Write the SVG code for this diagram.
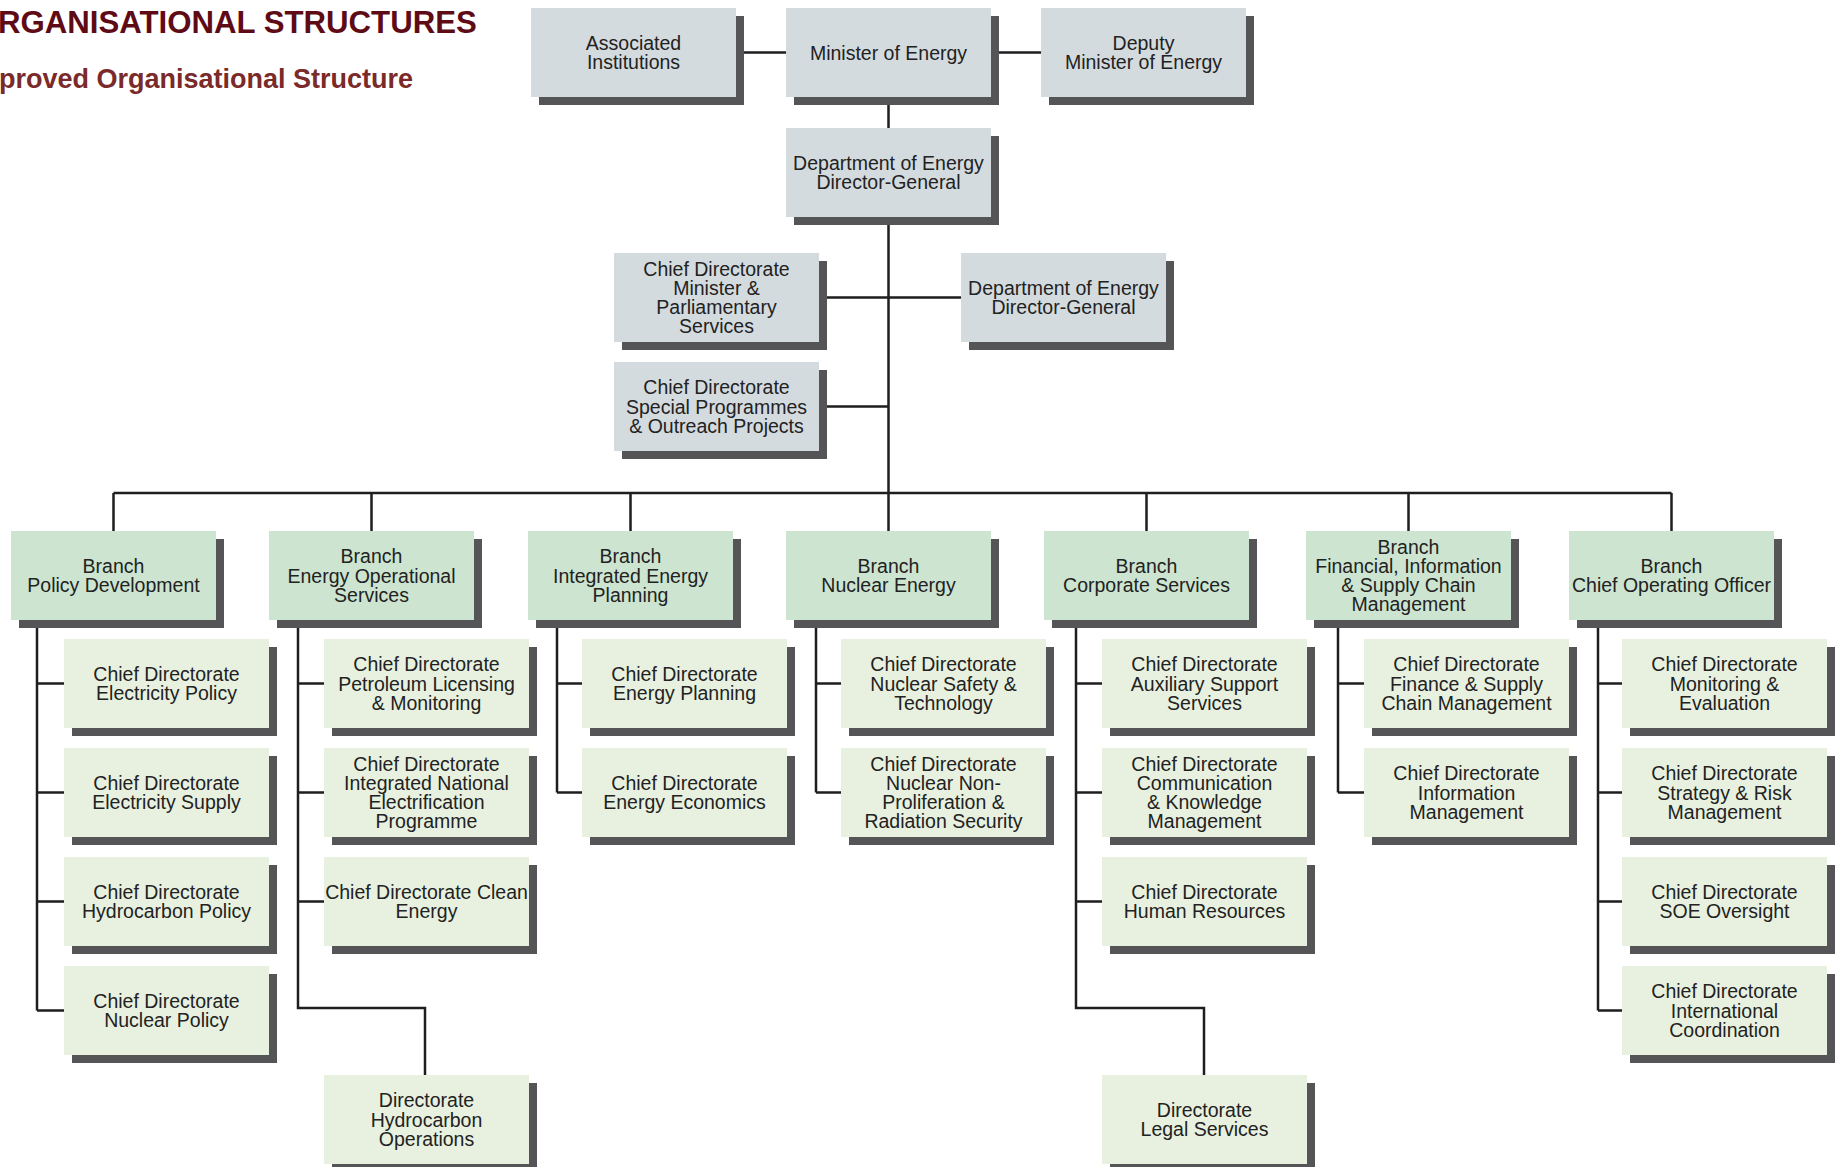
<svg xmlns="http://www.w3.org/2000/svg" width="1836" height="1167" viewBox="0 0 1836 1167">
<style>
.sh{fill:#555558}
.g{fill:#d4dbdf}
.b{fill:#cde5d0}
.c{fill:#e8f1e0}
.t{font-family:"Liberation Sans",Arial,sans-serif;font-size:19.5px;fill:#222;text-anchor:middle}
.ln{fill:none;stroke:#1e1e1e;stroke-width:2.5}
.h1{font-family:"Liberation Sans",Arial,sans-serif;font-weight:bold;font-size:31.2px;fill:#5e0b16}
.h2{font-family:"Liberation Sans",Arial,sans-serif;font-weight:bold;font-size:27px;fill:#7b2a2a}
</style>
<rect width="1836" height="1167" fill="#fff"/>
<text class="h1" x="-2" y="33">RGANISATIONAL STRUCTURES</text>
<text class="h2" x="-1" y="88">proved Organisational Structure</text>

<g id="connectors">
<path class="ln" d="M736 52.5H786M991 52.5H1041M888.5 97V128M888.5 217V493M819 297.5H961M819 406.5H888.5"/>
<path class="ln" d="M113.5 493H1671.5M113.5 493V531M371.5 493V531M630.5 493V531M888.5 493V531M1146.5 493V531M1408.5 493V531M1671.5 493V531"/>
<path class="ln" d="M37 620V1010.5M37 683.5H64M37 792.5H64M37 901.5H64M37 1010.5H64"/>
<path class="ln" d="M298 620V1008H425V1075M298 683.5H324M298 792.5H324M298 901.5H324"/>
<path class="ln" d="M557 620V792.5M557 683.5H582M557 792.5H582"/>
<path class="ln" d="M816 620V792.5M816 683.5H841M816 792.5H841"/>
<path class="ln" d="M1076 620V1008H1204V1075M1076 683.5H1102M1076 792.5H1102M1076 901.5H1102"/>
<path class="ln" d="M1338 620V792.5M1338 683.5H1364M1338 792.5H1364"/>
<path class="ln" d="M1598 620V1010.5M1598 683.5H1622M1598 792.5H1622M1598 901.5H1622M1598 1010.5H1622"/>
</g>

<g id="n-assoc"><rect class="sh" x="539" y="16" width="205" height="89"/><rect class="g" x="531" y="8" width="205" height="89"/><text class="t"><tspan x="633.5" y="49.9">Associated</tspan><tspan x="633.5" y="69.1">Institutions</tspan></text></g>
<g id="n-minister"><rect class="sh" x="794" y="16" width="205" height="89"/><rect class="g" x="786" y="8" width="205" height="89"/><text class="t"><tspan x="888.5" y="59.5">Minister of Energy</tspan></text></g>
<g id="n-deputy"><rect class="sh" x="1049" y="16" width="205" height="89"/><rect class="g" x="1041" y="8" width="205" height="89"/><text class="t"><tspan x="1143.5" y="49.9">Deputy</tspan><tspan x="1143.5" y="69.1">Minister of Energy</tspan></text></g>
<g id="n-dg"><rect class="sh" x="794" y="136" width="205" height="89"/><rect class="g" x="786" y="128" width="205" height="89"/><text class="t"><tspan x="888.5" y="169.9">Department of Energy</tspan><tspan x="888.5" y="189.1">Director-General</tspan></text></g>
<g id="n-cdmps"><rect class="sh" x="622" y="261" width="205" height="89"/><rect class="g" x="614" y="253" width="205" height="89"/><text class="t"><tspan x="716.5" y="275.7">Chief Directorate</tspan><tspan x="716.5" y="294.9">Minister &amp;</tspan><tspan x="716.5" y="314.1">Parliamentary</tspan><tspan x="716.5" y="333.3">Services</tspan></text></g>
<g id="n-dg2"><rect class="sh" x="969" y="261" width="205" height="89"/><rect class="g" x="961" y="253" width="205" height="89"/><text class="t"><tspan x="1063.5" y="294.9">Department of Energy</tspan><tspan x="1063.5" y="314.1">Director-General</tspan></text></g>
<g id="n-cdsp"><rect class="sh" x="622" y="370" width="205" height="89"/><rect class="g" x="614" y="362" width="205" height="89"/><text class="t"><tspan x="716.5" y="394.3">Chief Directorate</tspan><tspan x="716.5" y="413.5">Special Programmes</tspan><tspan x="716.5" y="432.7">&amp; Outreach Projects</tspan></text></g>

<g id="b-policy"><rect class="sh" x="19" y="539" width="205" height="89"/><rect class="b" x="11" y="531" width="205" height="89"/><text class="t"><tspan x="113.5" y="572.9">Branch</tspan><tspan x="113.5" y="592.1">Policy Development</tspan></text></g>
<g id="b-eos"><rect class="sh" x="277" y="539" width="205" height="89"/><rect class="b" x="269" y="531" width="205" height="89"/><text class="t"><tspan x="371.5" y="563.3">Branch</tspan><tspan x="371.5" y="582.5">Energy Operational</tspan><tspan x="371.5" y="601.7">Services</tspan></text></g>
<g id="b-iep"><rect class="sh" x="536" y="539" width="205" height="89"/><rect class="b" x="528" y="531" width="205" height="89"/><text class="t"><tspan x="630.5" y="563.3">Branch</tspan><tspan x="630.5" y="582.5">Integrated Energy</tspan><tspan x="630.5" y="601.7">Planning</tspan></text></g>
<g id="b-nuc"><rect class="sh" x="794" y="539" width="205" height="89"/><rect class="b" x="786" y="531" width="205" height="89"/><text class="t"><tspan x="888.5" y="572.9">Branch</tspan><tspan x="888.5" y="592.1">Nuclear Energy</tspan></text></g>
<g id="b-corp"><rect class="sh" x="1052" y="539" width="205" height="89"/><rect class="b" x="1044" y="531" width="205" height="89"/><text class="t"><tspan x="1146.5" y="572.9">Branch</tspan><tspan x="1146.5" y="592.1">Corporate Services</tspan></text></g>
<g id="b-fin"><rect class="sh" x="1314" y="539" width="205" height="89"/><rect class="b" x="1306" y="531" width="205" height="89"/><text class="t"><tspan x="1408.5" y="553.7">Branch</tspan><tspan x="1408.5" y="572.9">Financial, Information</tspan><tspan x="1408.5" y="592.1">&amp; Supply Chain</tspan><tspan x="1408.5" y="611.3">Management</tspan></text></g>
<g id="b-coo"><rect class="sh" x="1577" y="539" width="205" height="89"/><rect class="b" x="1569" y="531" width="205" height="89"/><text class="t"><tspan x="1671.5" y="572.9">Branch</tspan><tspan x="1671.5" y="592.1">Chief Operating Officer</tspan></text></g>

<g id="c1-1"><rect class="sh" x="72" y="647" width="205" height="89"/><rect class="c" x="64" y="639" width="205" height="89"/><text class="t"><tspan x="166.5" y="680.9">Chief Directorate</tspan><tspan x="166.5" y="700.1">Electricity Policy</tspan></text></g>
<g id="c1-2"><rect class="sh" x="72" y="756" width="205" height="89"/><rect class="c" x="64" y="748" width="205" height="89"/><text class="t"><tspan x="166.5" y="789.9">Chief Directorate</tspan><tspan x="166.5" y="809.1">Electricity Supply</tspan></text></g>
<g id="c1-3"><rect class="sh" x="72" y="865" width="205" height="89"/><rect class="c" x="64" y="857" width="205" height="89"/><text class="t"><tspan x="166.5" y="898.9">Chief Directorate</tspan><tspan x="166.5" y="918.1">Hydrocarbon Policy</tspan></text></g>
<g id="c1-4"><rect class="sh" x="72" y="974" width="205" height="89"/><rect class="c" x="64" y="966" width="205" height="89"/><text class="t"><tspan x="166.5" y="1007.9">Chief Directorate</tspan><tspan x="166.5" y="1027.1">Nuclear Policy</tspan></text></g>

<g id="c2-1"><rect class="sh" x="332" y="647" width="205" height="89"/><rect class="c" x="324" y="639" width="205" height="89"/><text class="t"><tspan x="426.5" y="671.3">Chief Directorate</tspan><tspan x="426.5" y="690.5">Petroleum Licensing</tspan><tspan x="426.5" y="709.7">&amp; Monitoring</tspan></text></g>
<g id="c2-2"><rect class="sh" x="332" y="756" width="205" height="89"/><rect class="c" x="324" y="748" width="205" height="89"/><text class="t"><tspan x="426.5" y="770.7">Chief Directorate</tspan><tspan x="426.5" y="789.9">Integrated National</tspan><tspan x="426.5" y="809.1">Electrification</tspan><tspan x="426.5" y="828.3">Programme</tspan></text></g>
<g id="c2-3"><rect class="sh" x="332" y="865" width="205" height="89"/><rect class="c" x="324" y="857" width="205" height="89"/><text class="t"><tspan x="426.5" y="898.9">Chief Directorate Clean</tspan><tspan x="426.5" y="918.1">Energy</tspan></text></g>
<g id="c2-5"><rect class="sh" x="332" y="1083" width="205" height="89"/><rect class="c" x="324" y="1075" width="205" height="89"/><text class="t"><tspan x="426.5" y="1107.3">Directorate</tspan><tspan x="426.5" y="1126.5">Hydrocarbon</tspan><tspan x="426.5" y="1145.7">Operations</tspan></text></g>

<g id="c3-1"><rect class="sh" x="590" y="647" width="205" height="89"/><rect class="c" x="582" y="639" width="205" height="89"/><text class="t"><tspan x="684.5" y="680.9">Chief Directorate</tspan><tspan x="684.5" y="700.1">Energy Planning</tspan></text></g>
<g id="c3-2"><rect class="sh" x="590" y="756" width="205" height="89"/><rect class="c" x="582" y="748" width="205" height="89"/><text class="t"><tspan x="684.5" y="789.9">Chief Directorate</tspan><tspan x="684.5" y="809.1">Energy Economics</tspan></text></g>

<g id="c4-1"><rect class="sh" x="849" y="647" width="205" height="89"/><rect class="c" x="841" y="639" width="205" height="89"/><text class="t"><tspan x="943.5" y="671.3">Chief Directorate</tspan><tspan x="943.5" y="690.5">Nuclear Safety &amp;</tspan><tspan x="943.5" y="709.7">Technology</tspan></text></g>
<g id="c4-2"><rect class="sh" x="849" y="756" width="205" height="89"/><rect class="c" x="841" y="748" width="205" height="89"/><text class="t"><tspan x="943.5" y="770.7">Chief Directorate</tspan><tspan x="943.5" y="789.9">Nuclear Non-</tspan><tspan x="943.5" y="809.1">Proliferation &amp;</tspan><tspan x="943.5" y="828.3">Radiation Security</tspan></text></g>

<g id="c5-1"><rect class="sh" x="1110" y="647" width="205" height="89"/><rect class="c" x="1102" y="639" width="205" height="89"/><text class="t"><tspan x="1204.5" y="671.3">Chief Directorate</tspan><tspan x="1204.5" y="690.5">Auxiliary Support</tspan><tspan x="1204.5" y="709.7">Services</tspan></text></g>
<g id="c5-2"><rect class="sh" x="1110" y="756" width="205" height="89"/><rect class="c" x="1102" y="748" width="205" height="89"/><text class="t"><tspan x="1204.5" y="770.7">Chief Directorate</tspan><tspan x="1204.5" y="789.9">Communication</tspan><tspan x="1204.5" y="809.1">&amp; Knowledge</tspan><tspan x="1204.5" y="828.3">Management</tspan></text></g>
<g id="c5-3"><rect class="sh" x="1110" y="865" width="205" height="89"/><rect class="c" x="1102" y="857" width="205" height="89"/><text class="t"><tspan x="1204.5" y="898.9">Chief Directorate</tspan><tspan x="1204.5" y="918.1">Human Resources</tspan></text></g>
<g id="c5-5"><rect class="sh" x="1110" y="1083" width="205" height="89"/><rect class="c" x="1102" y="1075" width="205" height="89"/><text class="t"><tspan x="1204.5" y="1116.9">Directorate</tspan><tspan x="1204.5" y="1136.1">Legal Services</tspan></text></g>

<g id="c6-1"><rect class="sh" x="1372" y="647" width="205" height="89"/><rect class="c" x="1364" y="639" width="205" height="89"/><text class="t"><tspan x="1466.5" y="671.3">Chief Directorate</tspan><tspan x="1466.5" y="690.5">Finance &amp; Supply</tspan><tspan x="1466.5" y="709.7">Chain Management</tspan></text></g>
<g id="c6-2"><rect class="sh" x="1372" y="756" width="205" height="89"/><rect class="c" x="1364" y="748" width="205" height="89"/><text class="t"><tspan x="1466.5" y="780.3">Chief Directorate</tspan><tspan x="1466.5" y="799.5">Information</tspan><tspan x="1466.5" y="818.7">Management</tspan></text></g>

<g id="c7-1"><rect class="sh" x="1630" y="647" width="205" height="89"/><rect class="c" x="1622" y="639" width="205" height="89"/><text class="t"><tspan x="1724.5" y="671.3">Chief Directorate</tspan><tspan x="1724.5" y="690.5">Monitoring &amp;</tspan><tspan x="1724.5" y="709.7">Evaluation</tspan></text></g>
<g id="c7-2"><rect class="sh" x="1630" y="756" width="205" height="89"/><rect class="c" x="1622" y="748" width="205" height="89"/><text class="t"><tspan x="1724.5" y="780.3">Chief Directorate</tspan><tspan x="1724.5" y="799.5">Strategy &amp; Risk</tspan><tspan x="1724.5" y="818.7">Management</tspan></text></g>
<g id="c7-3"><rect class="sh" x="1630" y="865" width="205" height="89"/><rect class="c" x="1622" y="857" width="205" height="89"/><text class="t"><tspan x="1724.5" y="898.9">Chief Directorate</tspan><tspan x="1724.5" y="918.1">SOE Oversight</tspan></text></g>
<g id="c7-4"><rect class="sh" x="1630" y="974" width="205" height="89"/><rect class="c" x="1622" y="966" width="205" height="89"/><text class="t"><tspan x="1724.5" y="998.3">Chief Directorate</tspan><tspan x="1724.5" y="1017.5">International</tspan><tspan x="1724.5" y="1036.7">Coordination</tspan></text></g>
</svg>
